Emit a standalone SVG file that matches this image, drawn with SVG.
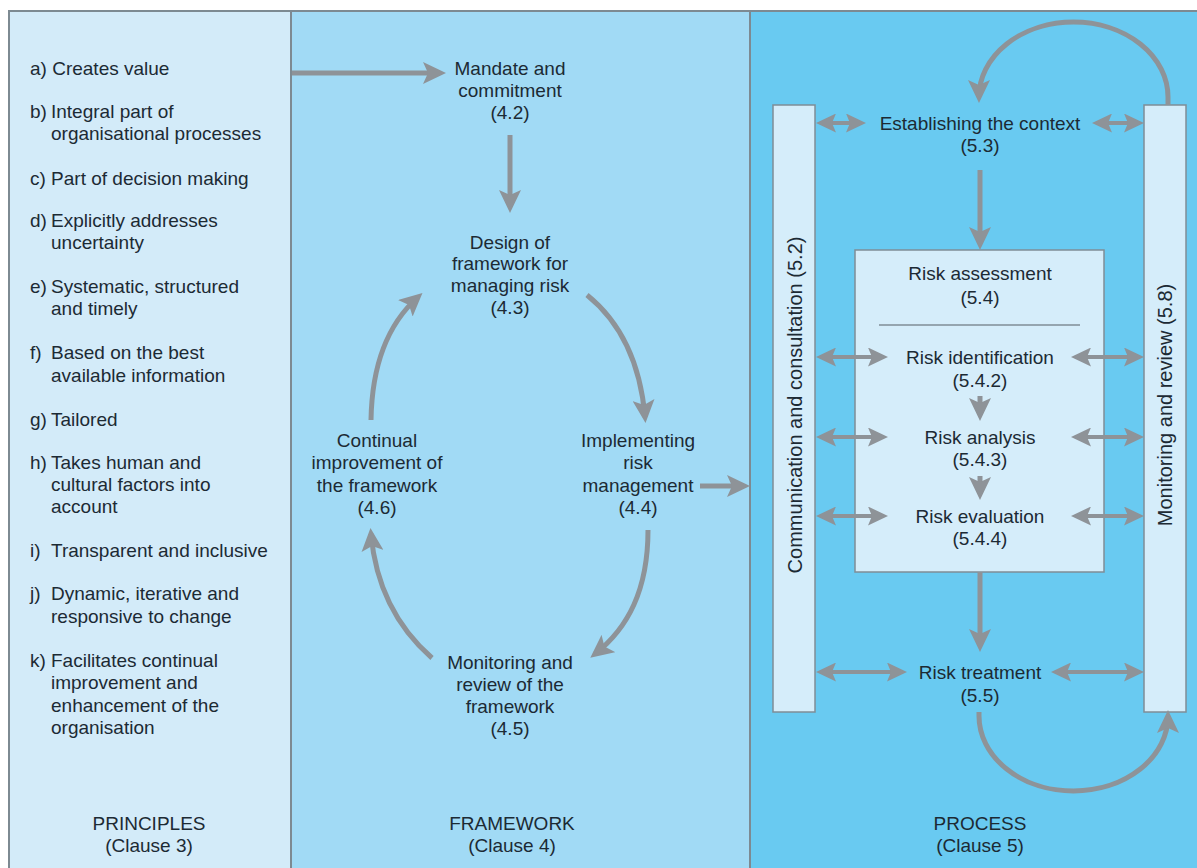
<svg xmlns="http://www.w3.org/2000/svg" width="1197" height="868" viewBox="0 0 1197 868">
<style>
  text { font-family: "Liberation Sans", Arial, sans-serif; font-size: 19px; fill: #1c2a34; }
  .c { text-anchor: middle; }
  .v { font-size: 20px; }
  .arr { fill: none; stroke: #8e9398; stroke-width: 5; }
  .dbl { fill: none; stroke: #8e9398; stroke-width: 4; }
  .bar { fill: #d5edfa; stroke: #7f8d96; stroke-width: 1.5; }
</style>
<defs>
  <marker id="ah" markerUnits="userSpaceOnUse" markerWidth="24" markerHeight="22" refX="17" refY="11" orient="auto" viewBox="0 0 24 22">
    <path d="M0,0 L23,11 L0,22 L5,11 z" fill="#8e9398"/>
  </marker>
  <marker id="ad" markerUnits="userSpaceOnUse" markerWidth="21" markerHeight="19" refX="15" refY="9.5" orient="auto-start-reverse" viewBox="0 0 21 19">
    <path d="M0,0 L20,9.5 L0,19 L4,9.5 z" fill="#8e9398"/>
  </marker>
</defs>

<g id="panels">
  <rect x="9" y="11" width="282" height="870" fill="#d3ebf9"/>
  <rect x="291" y="11" width="459" height="870" fill="#a1daf5"/>
  <rect x="750" y="11" width="460" height="870" fill="#69caf1"/>
  <path d="M9,880 L9,11 L1197,11" fill="none" stroke="#7d8a92" stroke-width="2"/>
  <line x1="291" y1="11" x2="291" y2="868" stroke="#7d8a92" stroke-width="2"/>
  <line x1="750" y1="11" x2="750" y2="868" stroke="#7d8a92" stroke-width="2"/>
</g>

<g id="principles">
  <text x="30" y="75">a) Creates value</text>
  <text x="30" y="118">b)<tspan x="51">Integral part of</tspan><tspan x="51" y="140">organisational processes</tspan></text>
  <text x="30" y="185">c) Part of decision making</text>
  <text x="30" y="227">d)<tspan x="51">Explicitly addresses</tspan><tspan x="51" y="249">uncertainty</tspan></text>
  <text x="30" y="293">e)<tspan x="51">Systematic, structured</tspan><tspan x="51" y="315">and timely</tspan></text>
  <text x="30" y="359">f)<tspan x="51">Based on the best</tspan><tspan x="51" y="382">available information</tspan></text>
  <text x="30" y="426">g)<tspan x="51">Tailored</tspan></text>
  <text x="30" y="469">h)<tspan x="51">Takes human and</tspan><tspan x="51" y="491">cultural factors into</tspan><tspan x="51" y="513">account</tspan></text>
  <text x="30" y="557">i)<tspan x="51">Transparent and inclusive</tspan></text>
  <text x="30" y="600">j)<tspan x="51">Dynamic, iterative and</tspan><tspan x="51" y="623">responsive to change</tspan></text>
  <text x="30" y="667">k)<tspan x="51">Facilitates continual</tspan><tspan x="51" y="689">improvement and</tspan><tspan x="51" y="712">enhancement of the</tspan><tspan x="51" y="734">organisation</tspan></text>
  <text class="c" x="149" y="830">PRINCIPLES</text>
  <text class="c" x="149" y="852">(Clause 3)</text>
</g>

<g id="mandate">
  <text class="c" x="510" y="75">Mandate and</text>
  <text class="c" x="510" y="97">commitment</text>
  <text class="c" x="510" y="119">(4.2)</text>
</g>
<g id="design">
  <text class="c" x="510" y="249">Design of</text>
  <text class="c" x="510" y="270">framework for</text>
  <text class="c" x="510" y="292">managing risk</text>
  <text class="c" x="510" y="314">(4.3)</text>
</g>
<g id="implementing">
  <text class="c" x="638" y="447">Implementing</text>
  <text class="c" x="638" y="469">risk</text>
  <text class="c" x="638" y="492">management</text>
  <text class="c" x="638" y="514">(4.4)</text>
</g>
<g id="monitoring-framework">
  <text class="c" x="510" y="669">Monitoring and</text>
  <text class="c" x="510" y="691">review of the</text>
  <text class="c" x="510" y="713">framework</text>
  <text class="c" x="510" y="735">(4.5)</text>
</g>
<g id="continual">
  <text class="c" x="377" y="447">Continual</text>
  <text class="c" x="377" y="469">improvement of</text>
  <text class="c" x="377" y="492">the framework</text>
  <text class="c" x="377" y="514">(4.6)</text>
</g>
<g id="framework-label">
  <text class="c" x="512" y="830">FRAMEWORK</text>
  <text class="c" x="512" y="852">(Clause 4)</text>
</g>

<g id="communication">
  <rect class="bar" x="773" y="105" width="42" height="607"/>
  <text class="c v" transform="translate(795,405) rotate(-90)" y="7">Communication and consultation (5.2)</text>
</g>
<g id="monitoring-review">
  <rect class="bar" x="1144" y="105" width="42" height="607"/>
  <text class="c v" transform="translate(1165,405) rotate(-90)" y="7">Monitoring and review (5.8)</text>
</g>
<g id="context">
  <text class="c" x="980" y="130">Establishing the context</text>
  <text class="c" x="980" y="152">(5.3)</text>
</g>
<g id="risk-assessment">
  <rect class="bar" x="855" y="250" width="249" height="322"/>
  <text class="c" x="980" y="280">Risk assessment</text>
  <text class="c" x="980" y="304">(5.4)</text>
  <line x1="879" y1="325" x2="1080" y2="325" stroke="#7f8d96" stroke-width="1.5"/>
</g>
<g id="identification">
  <text class="c" x="980" y="364">Risk identification</text>
  <text class="c" x="980" y="387">(5.4.2)</text>
</g>
<g id="analysis">
  <text class="c" x="980" y="444">Risk analysis</text>
  <text class="c" x="980" y="466">(5.4.3)</text>
</g>
<g id="evaluation">
  <text class="c" x="980" y="523">Risk evaluation</text>
  <text class="c" x="980" y="545">(5.4.4)</text>
</g>
<g id="treatment">
  <text class="c" x="980" y="679">Risk treatment</text>
  <text class="c" x="980" y="702">(5.5)</text>
</g>
<g id="process-label">
  <text class="c" x="980" y="830">PROCESS</text>
  <text class="c" x="980" y="852">(Clause 5)</text>
</g>

<g id="connectors">
  <path class="arr" marker-end="url(#ah)" d="M292,73 L440,73"/>
  <path class="arr" marker-end="url(#ah)" d="M510,135 L510,207"/>
  <path class="arr" marker-end="url(#ah)" d="M587,295 C618,320 640,360 645,417"/>
  <path class="arr" marker-end="url(#ah)" d="M648,530 C648,590 628,628 595,654"/>
  <path class="arr" marker-end="url(#ah)" d="M432,658 C400,630 376,590 371,534"/>
  <path class="arr" marker-end="url(#ah)" d="M371,420 C372,360 390,322 418,297"/>
  <path class="arr" marker-end="url(#ah)" d="M700,486 L744,486"/>

  <path class="arr" marker-end="url(#ah)" d="M1168,105 L1168,97 A94.5,75 0 0 0 979,97"/>
  <path class="arr" marker-end="url(#ah)" d="M980,170 L980,244"/>
  <path class="arr" marker-end="url(#ah)" d="M980,396 L980,415"/>
  <path class="arr" marker-end="url(#ah)" d="M980,476 L980,494"/>
  <path class="arr" marker-end="url(#ah)" d="M980,572 L980,646"/>
  <path class="arr" marker-end="url(#ah)" d="M979,712 L979,716 A94.5,75 0 0 0 1168,716"/>

  <path class="dbl" marker-start="url(#ad)" marker-end="url(#ad)" d="M821,123 L861,123"/>
  <path class="dbl" marker-start="url(#ad)" marker-end="url(#ad)" d="M1097,123 L1139,123"/>
  <path class="dbl" marker-start="url(#ad)" marker-end="url(#ad)" d="M821,357 L883,357"/>
  <path class="dbl" marker-start="url(#ad)" marker-end="url(#ad)" d="M1076,357 L1139,357"/>
  <path class="dbl" marker-start="url(#ad)" marker-end="url(#ad)" d="M821,437 L883,437"/>
  <path class="dbl" marker-start="url(#ad)" marker-end="url(#ad)" d="M1076,437 L1139,437"/>
  <path class="dbl" marker-start="url(#ad)" marker-end="url(#ad)" d="M821,516 L883,516"/>
  <path class="dbl" marker-start="url(#ad)" marker-end="url(#ad)" d="M1076,516 L1139,516"/>
  <path class="dbl" marker-start="url(#ad)" marker-end="url(#ad)" d="M821,672 L902,672"/>
  <path class="dbl" marker-start="url(#ad)" marker-end="url(#ad)" d="M1056,672 L1139,672"/>
</g>
</svg>
